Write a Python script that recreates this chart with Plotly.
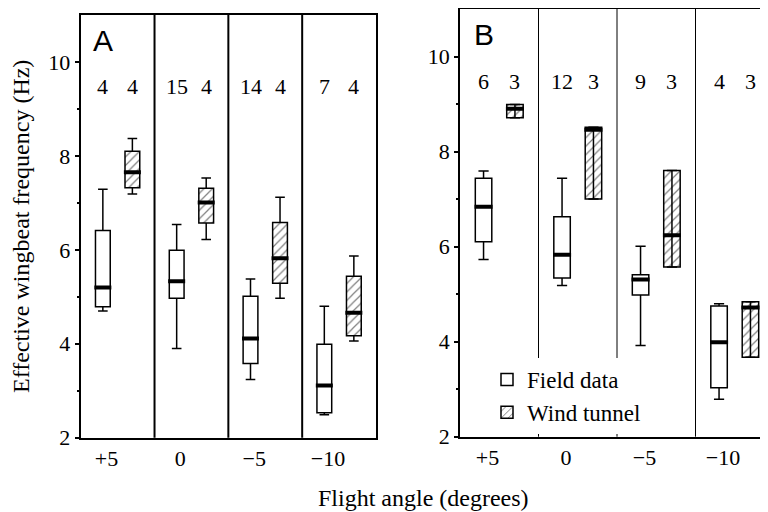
import plotly.graph_objects as go

# ---------------- data ----------------
groups = ["+5", "0", "\u22125", "\u221210"]

# Panel A
A_n_field = [4, 15, 14, 7]
A_n_wind = [4, 4, 4, 4]
A_field_low = [4.70, 3.90, 3.24, 2.49]
A_field_q1 = [4.79, 4.97, 3.58, 2.53]
A_field_med = [5.20, 5.33, 4.11, 3.11]
A_field_q3 = [6.41, 5.99, 5.01, 3.99]
A_field_high = [7.29, 6.54, 5.38, 4.80]
A_wind_low = [7.19, 6.22, 4.97, 4.06]
A_wind_q1 = [7.32, 6.57, 5.29, 4.17]
A_wind_med = [7.65, 7.01, 5.82, 4.66]
A_wind_q3 = [8.10, 7.31, 6.58, 5.44]
A_wind_high = [8.37, 7.53, 7.12, 5.87]

# Panel B
B_n_field = [6, 12, 9, 4]
B_n_wind = [3, 3, 3, 3]
B_field_low = [5.73, 5.18, 3.92, 2.79]
B_field_q1 = [6.10, 5.34, 4.98, 3.03]
B_field_med = [6.84, 5.83, 5.31, 3.99]
B_field_q3 = [7.44, 6.63, 5.41, 4.75]
B_field_high = [7.59, 7.44, 6.01, 4.80]
B_wind_low = [8.71, 7.00, 5.57, 3.67]
B_wind_q1 = [8.71, 7.00, 5.57, 3.67]
B_wind_med = [8.90, 8.46, 6.24, 4.72]
B_wind_q3 = [8.99, 8.51, 7.60, 4.84]
B_wind_high = [8.99, 8.51, 7.60, 4.84]

y_ticks = [2, 4, 6, 8, 10]
y_minor = [3, 5, 7, 9]

SERIF = "Liberation Serif"
SANS = "Liberation Sans"

W, H = 768, 512
OX, OY = 8, 8  # page body margin offset


def dx(px):
    return (px - OX) / W


def dy(py):
    return 1 - (py - OY) / H


fig = go.Figure()

panels = [
    dict(label="A", xa="x", ya="y", nf=A_n_field, nw=A_n_wind,
         f=(A_field_low, A_field_q1, A_field_med, A_field_q3, A_field_high),
         w=(A_wind_low, A_wind_q1, A_wind_med, A_wind_q3, A_wind_high),
         bw=0.2, through=False, legend=False),
    dict(label="B", xa="x2", ya="y2", nf=B_n_field, nw=B_n_wind,
         f=(B_field_low, B_field_q1, B_field_med, B_field_q3, B_field_high),
         w=(B_wind_low, B_wind_q1, B_wind_med, B_wind_q3, B_wind_high),
         bw=0.21, through=True, legend=True),
]

OFF = 0.2
CAP = 0.065
MW = 0.115


def whiskers(xs, lo, q1, q3, hi, through):
    X, Y = [], []
    for x, l, a, b, h in zip(xs, lo, q1, q3, hi):
        if through:
            X += [x, x, None]
            Y += [l, h, None]
        else:
            X += [x, x, None, x, x, None]
            Y += [b, h, None, l, a, None]
        X += [x - CAP, x + CAP, None, x - CAP, x + CAP, None]
        Y += [h, h, None, l, l, None]
    return X, Y


annotations = []
shapes = []
for p in panels:
    pos = list(range(len(groups)))
    xf = [i - OFF for i in pos]
    xw = [i + OFF for i in pos]
    flo, fq1, fmed, fq3, fhi = p["f"]
    wlo, wq1, wmed, wq3, whi = p["w"]

    fig.add_trace(go.Bar(
        x=xf, y=[b - a for a, b in zip(fq1, fq3)], base=fq1, width=p["bw"],
        marker=dict(color="white", line=dict(color="black", width=1.5)),
        name="Field data", legendgroup="field", showlegend=p["legend"],
        xaxis=p["xa"], yaxis=p["ya"], hoverinfo="skip"))
    fig.add_trace(go.Bar(
        x=xw, y=[b - a for a, b in zip(wq1, wq3)], base=wq1, width=p["bw"],
        marker=dict(color="white", line=dict(color="black", width=1.5),
                    pattern=dict(shape="/", fgcolor="black", bgcolor="white",
                                 size=6, solidity=0.2)),
        name="Wind tunnel", legendgroup="wind", showlegend=p["legend"],
        xaxis=p["xa"], yaxis=p["ya"], hoverinfo="skip"))

    X1, Y1 = whiskers(xf, flo, fq1, fq3, fhi, False)
    X2, Y2 = whiskers(xw, wlo, wq1, wq3, whi, p["through"])
    fig.add_trace(go.Scatter(x=X1 + X2, y=Y1 + Y2, mode="lines",
                             line=dict(color="black", width=1.5),
                             showlegend=False, hoverinfo="skip",
                             xaxis=p["xa"], yaxis=p["ya"]))
    MX, MY = [], []
    for x, m in list(zip(xf, fmed)) + list(zip(xw, wmed)):
        MX += [x - MW, x + MW, None]
        MY += [m, m, None]
    fig.add_trace(go.Scatter(x=MX, y=MY, mode="lines",
                             line=dict(color="black", width=4),
                             showlegend=False, hoverinfo="skip",
                             xaxis=p["xa"], yaxis=p["ya"]))

    # sample sizes
    for x, n in list(zip(xf, p["nf"])) + list(zip(xw, p["nw"])):
        annotations.append(dict(x=x, y=9.48, xref=p["xa"], yref=p["ya"],
                                text=str(n), showarrow=False,
                                font=dict(family=SERIF, size=22, color="black"),
                                yanchor="middle"))
    # panel letter
    annotations.append(dict(x=0.075, y=10.46, xref=p["xa"] + " domain",
                            yref=p["ya"], text=p["label"], showarrow=False,
                            font=dict(family=SANS, size=30, color="black"),
                            xanchor="center", yanchor="middle"))
    # group dividers
    for i in pos[1:]:
        shapes.append(dict(type="line", xref=p["xa"], yref=p["ya"] + " domain",
                           x0=i - 0.5, x1=i - 0.5, y0=0, y1=1,
                           line=dict(color="black",
                                     width=2 if p["label"] == "A" else 1)))

annotations.append(dict(x=dx(423), y=dy(498), xref="paper", yref="paper",
                        text="Flight angle (degrees)", showarrow=False,
                        font=dict(family=SERIF, size=24, color="black"),
                        xanchor="center", yanchor="middle"))

tickvals = [i - 0.15 for i in range(len(groups))]

xcommon = dict(tickmode="array", tickvals=tickvals, ticktext=groups,
               range=[-0.5, 3.5], automargin=False,
               showgrid=False, zeroline=False, showline=True, linecolor="black",
               ticks="",
               tickfont=dict(family=SERIF, size=22, color="black"))
ycommon = dict(range=[2, 11], tickmode="array", tickvals=y_ticks,
               automargin=False,
               showgrid=False, zeroline=False, showline=True, linecolor="black",
               ticks="outside", ticklen=4, tickwidth=1.5, tickcolor="black",
               minor=dict(tickmode="array", tickvals=y_minor, ticks="outside",
                          ticklen=2, tickwidth=1.5, tickcolor="black", showgrid=False),
               tickfont=dict(family=SERIF, size=22, color="black"))

fig.update_layout(
    width=W, height=H,
    margin=dict(l=0, r=0, t=0, b=0, autoexpand=False),
    paper_bgcolor="white", plot_bgcolor="white",
    barmode="overlay",
    xaxis=dict(domain=[dx(80.7), dx(376)], anchor="y",
               linewidth=2, mirror=True, **xcommon),
    yaxis=dict(domain=[dy(437.7), dy(15)], anchor="x",
               linewidth=2, mirror=True,
               title=dict(text="Effective wingbeat frequency (Hz)",
                          font=dict(family=SERIF, size=24, color="black"),
                          standoff=13),
               **ycommon),
    xaxis2=dict(domain=[dx(460), dx(774)], anchor="y2",
                linewidth=1.7, mirror=True, **xcommon),
    yaxis2=dict(domain=[dy(436.7), dy(9)], anchor="x2",
                linewidth=1.7, mirror=False, **ycommon),
    legend=dict(x=dx(487), y=dy(434), xanchor="left", yanchor="bottom",
                bgcolor="white", borderwidth=0, traceorder="normal",
                font=dict(family=SERIF, size=23, color="black")),
    annotations=annotations,
    shapes=shapes,
    showlegend=True,
)

fig.write_html("out.html")
